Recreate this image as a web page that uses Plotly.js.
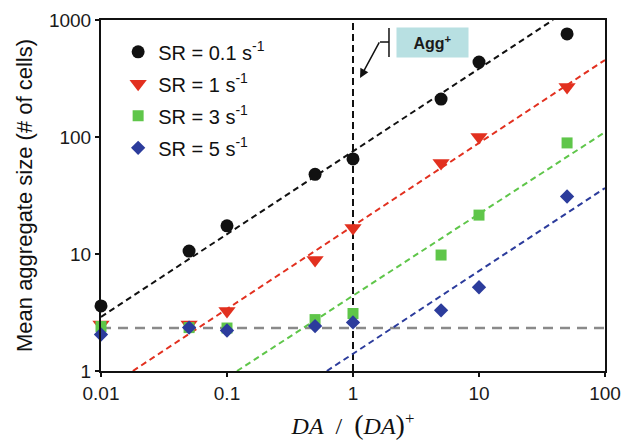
<!DOCTYPE html>
<html>
<head>
<meta charset="utf-8">
<script src="https://cdn.plot.ly/plotly-3.0.1.min.js"></script>
<style>html,body{margin:0;padding:0;background:#fff;}#chart{width:643px;height:443px;}</style>
</head>
<body>
<div id="chart"></div>
<script>
// ---- data ----
const xVals = [0.01, 0.05, 0.1, 0.5, 1, 5, 10, 50];
const sr01 = [3.6, 10.6, 17.4, 48, 65, 211, 437, 760];
const sr1  = [2.5, 2.5, 3.25, 8.9, 16.7, 60, 100, 267];
const sr3  = [2.4, 2.35, 2.33, 2.75, 3.1, 9.8, 21.5, 89];
const sr5  = [2.05, 2.35, 2.22, 2.42, 2.6, 3.3, 5.2, 31];

// fitted power-law lines (end points)
const fit01X = [0.01, 38.7],  fit01Y = [2.9, 1000];
const fit1X  = [0.0179, 100], fit1Y  = [1, 455];
const fit3X  = [0.12, 100],   fit3Y  = [1, 110];
const fit5X  = [0.62, 100],   fit5Y  = [1, 36.6];

// reference lines
const baseX = [0.01, 100], baseY = [2.33, 2.33];
const aggX = [1, 1], aggY = [1, 1000];

const legendNames = ['SR = 0.1 s<sup>-1</sup>', 'SR = 1 s<sup>-1</sup>', 'SR = 3 s<sup>-1</sup>', 'SR = 5 s<sup>-1</sup>'];
const xTickVals = [0.01, 0.1, 1, 10, 100];
const xTickText = ['0.01', '0.1', '1', '10', '100'];
const yTickVals = [1, 10, 100, 1000];
const yTickText = ['1', '10', '100', '1000'];

const cBlack = '#111111', cRed = '#e2301f', cGreen = '#5fc64a', cBlue = '#2c3c9c';

function fit(x, y, color) {
  return {x: x, y: y, mode: 'lines', showlegend: false, hoverinfo: 'skip',
          line: {color: color, width: 2, dash: '6px,4px'}};
}
function pts(y, name, sym, size, color, rank) {
  return {x: xVals, y: y, mode: 'markers', name: name, legendgroup: 'g' + rank, legendrank: rank,
          marker: {symbol: sym, size: size, color: color, line: {width: 0}}, cliponaxis: false};
}

const traces = [
  {x: baseX, y: baseY, mode: 'lines', showlegend: false, hoverinfo: 'skip',
   line: {color: '#8a8a8a', width: 2.5, dash: '10px,7px'}},
  {x: aggX, y: aggY, mode: 'lines', showlegend: false, hoverinfo: 'skip',
   line: {color: '#111', width: 2, dash: '7px,4px'}},
  fit(fit01X, fit01Y, cBlack),
  fit(fit1X, fit1Y, cRed),
  fit(fit3X, fit3Y, cGreen),
  fit(fit5X, fit5Y, cBlue),
  pts(sr01, legendNames[0], 'circle', 13, cBlack, 1),
  pts(sr1, legendNames[1], 'triangle-down', 15, cRed, 2),
  pts(sr3, legendNames[2], 'square', 11, cGreen, 3),
  pts(sr5, legendNames[3], 'diamond', 11, cBlue, 4)
];

const tickFont = {family: 'Liberation Sans, Arial, sans-serif', size: 19, color: '#1a1a1a'};

const layout = {
  width: 643, height: 443,
  margin: {l: 101, r: 38, t: 20, b: 72},
  paper_bgcolor: '#fff', plot_bgcolor: '#fff',
  showlegend: true,
  legend: {x: 0.034, y: 0.965, xanchor: 'left', yanchor: 'top', bgcolor: 'rgba(0,0,0,0)',
           font: {family: 'Liberation Sans, Arial, sans-serif', size: 20, color: '#111'},
           traceorder: 'grouped', tracegroupgap: 3},
  xaxis: {type: 'log', range: [-2, 2], tickmode: 'array', tickvals: xTickVals, ticktext: xTickText,
          showgrid: false, zeroline: false, showline: true, linecolor: '#111', linewidth: 2, mirror: true,
          ticks: 'outside', ticklen: 4, tickwidth: 1.5, tickcolor: '#111', tickfont: tickFont,
          title: {text: '<i>DA</i>  /  <span style="font-size:28px">(</span><i>DA</i><span style="font-size:28px">)</span><sup>+</sup>',
                  font: {family: 'Liberation Serif, Times New Roman, serif', size: 24, color: '#111'}, standoff: 14}},
  yaxis: {type: 'log', range: [0, 3], tickmode: 'array', tickvals: yTickVals, ticktext: yTickText,
          showgrid: false, zeroline: false, showline: true, linecolor: '#111', linewidth: 2, mirror: true,
          ticks: 'outside', ticklen: 4, tickwidth: 1.5, tickcolor: '#111', tickfont: tickFont,
          title: {text: 'Mean aggregate size (# of cells)',
                  font: {family: 'Liberation Sans, Arial, sans-serif', size: 22, color: '#111'}, standoff: 10}},
  shapes: [
    {type: 'line', xref: 'paper', yref: 'paper', x0: 0.5714, x1: 0.5714, y0: 0.8946, y1: 0.977,
     line: {color: '#111', width: 1.5}},
    {type: 'line', xref: 'paper', yref: 'paper', x0: 0.5536, x1: 0.5714, y0: 0.9373, y1: 0.9373,
     line: {color: '#111', width: 1.5}}
  ],
  annotations: [
    {xref: 'paper', yref: 'paper', x: 0.6577, y: 0.9373, xanchor: 'center', yanchor: 'middle',
     text: '<b>Agg<sup>+</sup></b>', showarrow: false,
     bgcolor: '#b8e0e2', width: 71, height: 29, align: 'center', valign: 'middle', borderpad: 0,
     font: {family: 'Liberation Sans, Arial, sans-serif', size: 16, color: '#1a1a1a'}},
    {xref: 'paper', yref: 'paper', x: 0.514, y: 0.835, text: '', showarrow: true,
     ax: 20, ay: -37, arrowhead: 2, arrowsize: 1.2, arrowwidth: 1.5, arrowcolor: '#111'}
  ]
};

Plotly.newPlot('chart', traces, layout, {displayModeBar: false, staticPlot: true});
</script>
</body>
</html>
